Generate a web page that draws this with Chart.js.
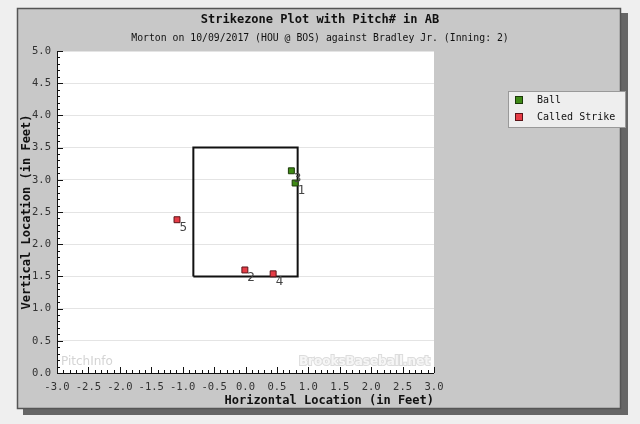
<!DOCTYPE html>
<html>
<head>
<meta charset="utf-8">
<script src="https://cdn.jsdelivr.net/npm/chart.js@4"></script>
<style>
  body { margin: 0; background: #efefef; }
  canvas { display: block; }
</style>
</head>
<body>
<canvas id="zoneChart" width="640" height="424"></canvas>
<script>
// pitch data (feet, catcher's view)
const ballNum = [1, 3];
const ballX = [0.79, 0.73];
const ballY = [2.95, 3.14];

const strikeNum = [2, 4, 5];
const strikeX = [-0.01, 0.44, -1.09];
const strikeY = [1.60, 1.54, 2.38];

// strike zone edges
const zoneX = [-0.83, 0.83];
const zoneY = [1.5, 3.5];

const xTicks = [-3.0, -2.5, -2.0, -1.5, -1.0, -0.5, 0.0, 0.5, 1.0, 1.5, 2.0, 2.5, 3.0];
const yTicks = [0.0, 0.5, 1.0, 1.5, 2.0, 2.5, 3.0, 3.5, 4.0, 4.5, 5.0];

const titleText = 'Strikezone Plot with Pitch# in AB';
const subtitleText = 'Morton on 10/09/2017 (HOU @ BOS) against Bradley Jr. (Inning: 2)';

const MONO = '"DejaVu Sans Mono", "Liberation Mono", monospace';

const toPoints = (xs, ys) => xs.map((x, i) => ({ x: x, y: ys[i] }));

const zonePath = [
  { x: zoneX[0], y: zoneY[0] }, { x: zoneX[0], y: zoneY[1] },
  { x: zoneX[1], y: zoneY[1] }, { x: zoneX[1], y: zoneY[0] },
  { x: zoneX[0], y: zoneY[0] }
];

// grey panel, white plot area, titles, watermarks
const panelPlugin = {
  id: 'panel',
  beforeDraw(chart) {
    const c = chart.ctx, a = chart.chartArea;
    c.save();
    c.fillStyle = '#666';
    c.fillRect(23, 13, 605, 402);
    c.fillStyle = '#c8c8c8';
    c.fillRect(17, 8, 604, 401);
    c.strokeStyle = '#555';
    c.lineWidth = 1.5;
    c.strokeRect(17.5, 8.5, 603, 400);
    c.fillStyle = '#fff';
    c.fillRect(a.left, a.top, a.right - a.left, a.bottom - a.top);

    c.fillStyle = '#111';
    c.textAlign = 'center';
    c.textBaseline = 'middle';
    c.font = 'bold 12px ' + MONO;
    c.fillText(titleText, 320, 20);
    c.font = '9.8px ' + MONO;
    c.fillText(subtitleText, 320, 38);

    // watermarks
    c.textBaseline = 'alphabetic';
    c.textAlign = 'left';
    c.font = '12px "DejaVu Sans", sans-serif';
    c.fillStyle = '#d4d4d4';
    c.fillText('PitchInfo', a.left + 4, a.bottom - 8);
    c.textAlign = 'right';
    c.font = 'bold 12px "DejaVu Sans", sans-serif';
    c.lineWidth = 2;
    c.strokeStyle = '#dcdcdc';
    c.strokeText('BrooksBaseball.net', a.right - 4, a.bottom - 8);
    c.fillStyle = '#f6f6f6';
    c.fillText('BrooksBaseball.net', a.right - 4, a.bottom - 8);
    c.restore();
  },
  afterDatasetsDraw(chart) {
    const c = chart.ctx;
    c.save();
    c.font = '12px "DejaVu Sans", sans-serif';
    c.fillStyle = '#444';
    c.textAlign = 'left';
    c.textBaseline = 'top';
    [ballNum, strikeNum].forEach((nums, di) => {
      chart.getDatasetMeta(di).data.forEach((pt, i) => {
        c.fillText(String(nums[i]), pt.x + 2.5, pt.y + 2);
      });
    });
    c.restore();
  },
  afterDraw(chart) {
    const c = chart.ctx, a = chart.chartArea;
    const xs = chart.scales.x, ys = chart.scales.y;
    c.save();
    c.strokeStyle = '#111';
    c.lineWidth = 1;
    c.beginPath();
    c.moveTo(a.left + 0.5, a.top);
    c.lineTo(a.left + 0.5, a.bottom + 0.5);
    c.lineTo(a.right, a.bottom + 0.5);
    // minor and major ticks pointing inward
    for (let k = 0; k <= 60; k++) {
      const v = -3 + k * 0.1;
      const px = Math.round(xs.getPixelForValue(v)) + 0.5;
      const len = k % 5 === 0 ? 6 : 3;
      c.moveTo(px, a.bottom);
      c.lineTo(px, a.bottom - len);
    }
    for (let k = 0; k <= 50; k++) {
      const v = k * 0.1;
      const py = Math.round(ys.getPixelForValue(v)) + 0.5;
      const len = k % 5 === 0 ? 6 : 3;
      c.moveTo(a.left, py);
      c.lineTo(a.left + len, py);
    }
    c.stroke();

    // legend
    c.fillStyle = '#eeeeee';
    c.fillRect(508, 91, 118, 37);
    c.strokeStyle = '#999';
    c.strokeRect(508.5, 91.5, 117, 36);
    c.font = '10px ' + MONO;
    c.textAlign = 'left';
    c.textBaseline = 'middle';
    [0, 1].forEach((di, i) => {
      const ds = chart.data.datasets[di];
      const cy = 100 + i * 17;
      c.fillStyle = ds.backgroundColor;
      c.fillRect(515, cy - 4, 8, 8);
      c.strokeStyle = ds.borderColor;
      c.strokeRect(515.5, cy - 3.5, 7, 7);
      c.fillStyle = '#111';
      c.fillText(ds.label, 537, cy);
    });
    c.restore();
  }
};

new Chart(document.getElementById('zoneChart'), {
  type: 'scatter',
  data: {
    datasets: [{
      label: 'Ball',
      data: toPoints(ballX, ballY),
      backgroundColor: '#3f8a16',
      borderColor: '#1c3a0a',
      borderWidth: 1,
      pointStyle: 'rect',
      pointRadius: 4.2
    }, {
      label: 'Called Strike',
      data: toPoints(strikeX, strikeY),
      backgroundColor: '#e63c46',
      borderColor: '#5a1418',
      borderWidth: 1,
      pointStyle: 'rect',
      pointRadius: 4.2
    }, {
      label: 'Zone',
      data: zonePath,
      showLine: true,
      borderColor: '#111',
      borderWidth: 2,
      pointRadius: 0,
      fill: false
    }]
  },
  options: {
    responsive: false,
    animation: false,
    devicePixelRatio: 1,
    layout: { padding: { top: 51, right: 206, bottom: 16, left: 0 } },
    plugins: {
      legend: { display: false },
      tooltip: { enabled: false }
    },
    scales: {
      x: {
        type: 'linear',
        min: -3, max: 3,
        afterBuildTicks: s => { s.ticks = xTicks.map(v => ({ value: v })); },
        afterFit: s => { s.height = 35; },
        grid: { display: false, drawTicks: false },
        border: { display: false },
        ticks: {
          padding: 8,
          maxRotation: 0,
          autoSkip: false,
          color: '#333',
          font: { family: MONO, size: 10.5 },
          callback: v => Number(v).toFixed(1)
        },
        title: {
          display: true,
          text: 'Horizontal Location (in Feet)',
          align: 'end',
          color: '#111',
          padding: { top: 0, bottom: 0 },
          font: { family: MONO, size: 12, weight: 'bold' }
        }
      },
      y: {
        type: 'linear',
        min: 0, max: 5,
        afterBuildTicks: s => { s.ticks = yTicks.map(v => ({ value: v })); },
        afterFit: s => { s.width = 57; },
        grid: {
          drawTicks: false,
          color: ctx => ctx.tick && ctx.tick.value === 0 ? 'rgba(0,0,0,0)' : '#e4e4e4',
          lineWidth: 1
        },
        border: { display: false },
        ticks: {
          padding: 6,
          autoSkip: false,
          color: '#333',
          font: { family: MONO, size: 10.5 },
          callback: v => Number(v).toFixed(1)
        },
        title: {
          display: true,
          text: 'Vertical Location (in Feet)',
          color: '#111',
          padding: { top: 20, bottom: 0 },
          font: { family: MONO, size: 12, weight: 'bold' }
        }
      }
    }
  },
  plugins: [panelPlugin]
});
</script>
</body>
</html>
